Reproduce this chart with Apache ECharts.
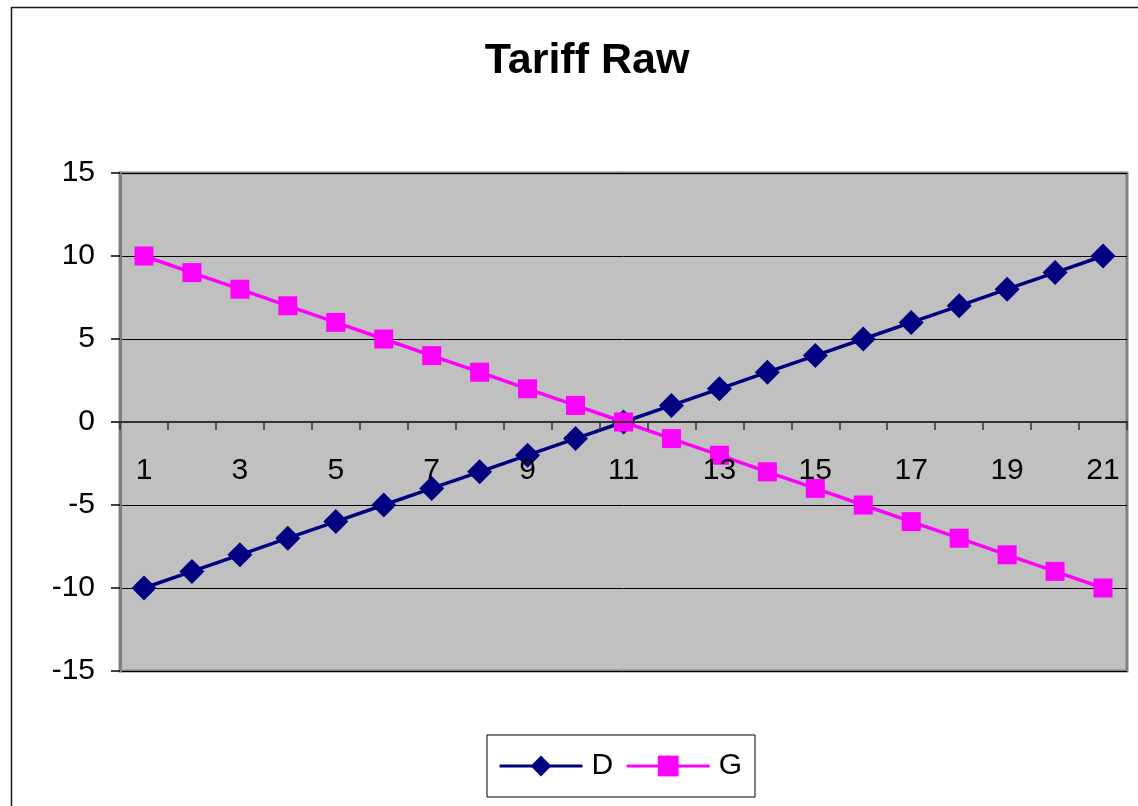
<!DOCTYPE html>
<html>
<head>
<meta charset="utf-8">
<style>
  html, body { margin: 0; padding: 0; background: #ffffff; }
  #chart { width: 1138px; height: 806px; }
</style>
<script src="https://cdn.jsdelivr.net/npm/echarts@6/dist/echarts.min.js"></script>
</head>
<body>
<div id="chart"></div>
<script>
// Category labels along the x axis
const categories = ['1','2','3','4','5','6','7','8','9','10','11','12','13','14','15','16','17','18','19','20','21'];
// Series values
const seriesD = [-10, -9, -8, -7, -6, -5, -4, -3, -2, -1, 0, 1, 2, 3, 4, 5, 6, 7, 8, 9, 10];
const seriesG = [10, 9, 8, 7, 6, 5, 4, 3, 2, 1, 0, -1, -2, -3, -4, -5, -6, -7, -8, -9, -10];

const FONT = '"Liberation Sans", Arial, sans-serif';

const GRID_TOP = 173;
const GRID_BOTTOM = 135;
const CHART_H = 806;
// the category axis sits on the zero line, halfway up the symmetric value range
const zeroOffset = -(CHART_H - GRID_TOP - GRID_BOTTOM) / 2;

const chart = echarts.init(document.getElementById('chart'), null, { renderer: 'canvas' });

chart.setOption({
  animation: false,
  backgroundColor: '#ffffff',
  textStyle: { fontFamily: FONT },
  graphic: [{
    type: 'rect',
    silent: true,
    z: -10,
    shape: { x: 11.5, y: 7.5, width: 1200, height: 900 },
    style: { fill: 'none', stroke: '#1a1a1a', lineWidth: 1.5 }
  }],
  title: {
    text: 'Tariff Raw',
    left: 582,
    top: 35,
    textAlign: 'center',
    textStyle: { fontFamily: FONT, fontSize: 43, fontWeight: 'bold', color: '#000' }
  },
  legend: {
    left: 487,
    top: 735,
    orient: 'horizontal',
    padding: [16, 13, 16, 11],
    itemGap: 12,
    itemWidth: 83,
    itemHeight: 26,
    borderColor: '#000',
    borderWidth: 1,
    backgroundColor: '#fff',
    lineStyle: { width: 3 },
    textStyle: { fontFamily: FONT, fontSize: 30, color: '#000', padding: [0, 0, 0, 4] },
    data: ['D', 'G']
  },
  grid: {
    left: 120,
    right: 11,
    top: GRID_TOP,
    bottom: GRID_BOTTOM,
    show: true,
    backgroundColor: '#C0C0C0',
    borderColor: '#808080',
    borderWidth: 3
  },
  xAxis: {
    type: 'category',
    data: categories,
    boundaryGap: true,
    position: 'bottom',
    offset: zeroOffset,
    z: 5,
    axisLine: { onZero: false, lineStyle: { color: '#333', width: 2 } },
    axisTick: { show: true, inside: false, length: 8, interval: 0, lineStyle: { color: '#333', width: 1.5 } },
    axisLabel: { interval: 1, margin: 34, fontFamily: FONT, fontSize: 30, color: '#000' },
    splitLine: { show: false }
  },
  yAxis: {
    type: 'value',
    min: -15,
    max: 15,
    interval: 5,
    axisLine: { show: true, onZero: false, lineStyle: { color: '#808080', width: 3 } },
    axisTick: { show: true, inside: false, length: 9, lineStyle: { color: '#000', width: 1.5 } },
    axisLabel: { margin: 25, fontFamily: FONT, fontSize: 30, color: '#000' },
    splitLine: { show: true, lineStyle: { color: '#000', width: 1 } }
  },
  series: [
    {
      name: 'D',
      type: 'line',
      data: seriesD,
      symbol: 'diamond',
      symbolSize: 25,
      showAllSymbol: true,
      lineStyle: { color: '#000080', width: 3.5 },
      itemStyle: { color: '#000080' },
      z: 2
    },
    {
      name: 'G',
      type: 'line',
      data: seriesG,
      symbol: 'rect',
      symbolSize: 19,
      showAllSymbol: true,
      lineStyle: { color: '#FF00FF', width: 3.5 },
      itemStyle: { color: '#FF00FF' },
      z: 3
    }
  ]
});
</script>
</body>
</html>
